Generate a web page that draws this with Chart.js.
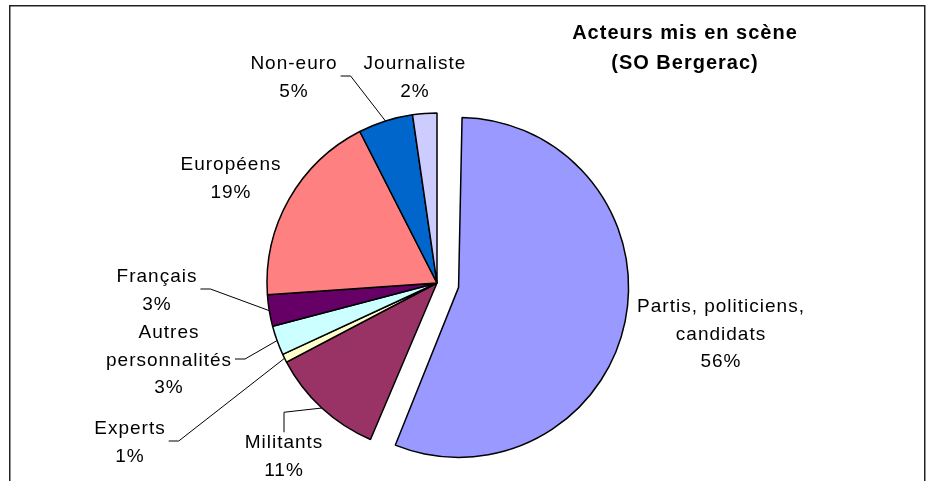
<!DOCTYPE html>
<html>
<head>
<meta charset="utf-8">
<script src="https://cdn.jsdelivr.net/npm/chart.js@4.4.0/dist/chart.umd.min.js"></script>
<style>
html,body{margin:0;padding:0;background:#fff;}
#wrap{width:932px;height:481px;position:relative;}
</style>
</head>
<body>
<div id="wrap"><canvas id="chart1"></canvas></div>
<script>
/* DATA */
const labels=[["Partis, politiciens,","candidats"],"Militants","Experts",["Autres","personnalités"],"Français","Européens","Non-euro","Journaliste"];
const values=[56.4,10.9,0.8,2.8,3.0,18.6,5.2,2.3];
const colors=["#9999FF","#993366","#FFFFCC","#CCFFFF","#660066","#FF8080","#0066CC","#CCCCFF"];
const titleLines=["Acteurs mis en scène","(SO Bergerac)"];

/* LAYOUT */
const R=170;
const explode=[22,0,0,0,0,0,0,0]; // px the slice is pulled out
// label block centre relative to pie centre + leader type
const labelPos=[[284,50,""],[-153,172,"top"],[-307,158,"side"],[-268,76,"side"],[-280,6,"side"],[-206,-106,""],[-143,-207,"side"],[-22,-207,""]];
const FONT="'Liberation Sans', Arial, sans-serif";

/* FRAME + RADIUS FIX */
const framePlugin={
  id:"frame",
  beforeDraw(c){
    const x=c.ctx;
    x.save();
    x.fillStyle="#fff";x.fillRect(0,0,c.width,c.height);
    x.strokeStyle="#222";x.lineWidth=1.5;
    x.strokeRect(9.75,5.75,915,520);
    x.restore();
  },
  beforeDatasetsDraw(c){
    // v4 grows an offset arc by offset/4, keep it at the pie radius
    c.getDatasetMeta(0).data.forEach(a=>{
      const fix=1-Math.sin(Math.min(Math.PI,a.circumference));
      a.outerRadius=R-(a.options.offset||0)/4*fix;
    });
  },
  afterDraw(c){
    const x=c.ctx;
    x.save();
    x.font="bold 20px "+FONT;
    x.letterSpacing="1px";
    x.fillStyle="#000";x.textAlign="center";
    titleLines.forEach((t,k)=>x.fillText(t,685,39+k*30));
    x.restore();
  }
};

/* LABELS + LEADER LINES */
const labelPlugin={
  id:"pieLabels",
  afterDatasetsDraw(c){
    const ctx=c.ctx, meta=c.getDatasetMeta(0);
    const total=values.reduce((a,b)=>a+b,0);
    ctx.save();
    ctx.font="19px "+FONT;
    ctx.letterSpacing="1px";
    ctx.fillStyle="#000";ctx.strokeStyle="#000";ctx.lineWidth=1;
    ctx.textAlign="center";
    meta.data.forEach((arc,i)=>{
      const lines=[].concat(labels[i],Math.round(values[i]/total*100)+"%");
      const [dx,dy,lead]=labelPos[i];
      const cx=arc.x+dx, cy=arc.y+dy, n=lines.length, lh=27.5;
      lines.forEach((t,k)=>ctx.fillText(t,cx,cy+(k-(n-1)/2)*lh+6.8));
      if(!lead)return;
      const mid=(arc.startAngle+arc.endAngle)/2;
      const ex=arc.x+Math.cos(mid)*R, ey=arc.y+Math.sin(mid)*R;
      ctx.beginPath();
      if(lead==="side"){
        const w=Math.max(...lines.map(t=>ctx.measureText(t).width));
        const sx=cx+w/2+3;
        ctx.moveTo(sx,cy);ctx.lineTo(sx+10,cy);
      }else{
        const sy=cy-(n-1)/2*lh-9;
        ctx.moveTo(cx,sy);ctx.lineTo(cx,sy-20);
      }
      ctx.lineTo(ex,ey);
      ctx.stroke();
    });
    ctx.restore();
  }
};

/* CHART */
new Chart(chart1,{
  type:"pie",
  data:{
    labels:labels,
    datasets:[{
      data:values,
      backgroundColor:colors,
      borderColor:"#000",
      borderWidth:1.5,
      offset:explode.map(e=>e*4)
    }]
  },
  options:{
    responsive:true,
    maintainAspectRatio:false,
    animation:false,
    events:[],
    radius:R,
    layout:{padding:{left:0,right:58,top:85,bottom:0}},
    plugins:{legend:{display:false},tooltip:{enabled:false}}
  },
  plugins:[framePlugin,labelPlugin]
});
</script>
</body>
</html>
